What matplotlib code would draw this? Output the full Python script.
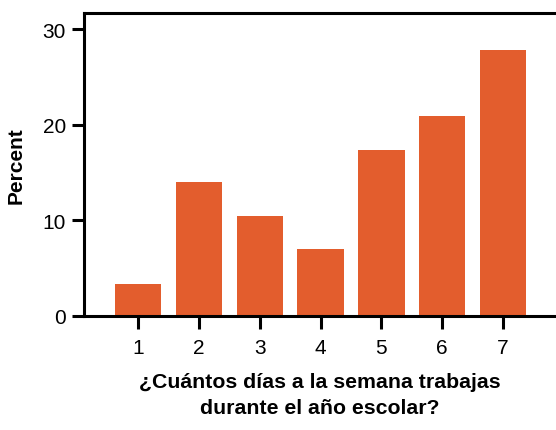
import matplotlib.pyplot as plt

days = [1, 2, 3, 4, 5, 6, 7]
percent = [3.4, 14.0, 10.5, 7.0, 17.4, 20.9, 27.8]
yticks = [0, 10, 20, 30]

plt.rcParams['font.family'] = ['Liberation Sans', 'DejaVu Sans']

fig = plt.figure(figsize=(5.56, 4.31), dpi=100)
ax = fig.add_axes([84/556, 114/431, 472/556, 303/431])

ax.bar(days, percent, width=0.76, color='#E35D2D')

ax.set_xlim(0.112, 7.87)
ax.set_ylim(0, 31.7)
ax.set_xticks(days)
ax.set_yticks(yticks)
ax.spines['right'].set_visible(False)
for s in ['left', 'top', 'bottom']:
    ax.spines[s].set_linewidth(2.2)
ax.tick_params(length=9, width=2.2, labelsize=15, pad=4)
ax.tick_params(axis='x', pad=7)

ax.set_ylabel('Percent', fontsize=15, fontweight='bold', labelpad=12)
ax.set_xlabel('¿Cuántos días a la semana trabajas\ndurante el año escolar?',
              fontsize=15.3, fontweight='bold', labelpad=11, linespacing=1.45)

fig.savefig('out.png', dpi=100)
